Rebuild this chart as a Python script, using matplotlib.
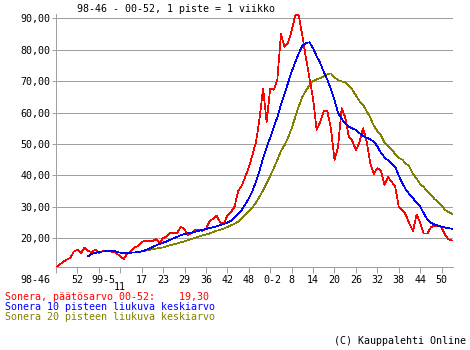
import numpy as np
import matplotlib
matplotlib.use("Agg")
import matplotlib.pyplot as plt
from matplotlib.transforms import ScaledTranslation

# weekly closing price, Sonera, 98-46 .. 00-52 (one point per week)
close = [10.6, 11.6, 12.5, 13.2, 13.8, 15.8, 16.3, 15.3, 17.0, 16.0,
         15.6, 16.4, 15.4, 15.8, 16.1, 15.8, 15.7, 15.2, 14.2, 13.4,
         15.2, 15.8, 17.1, 17.5, 18.9, 19.1, 19.1, 19.1, 19.7, 18.7,
         20.0, 20.6, 21.6, 21.6, 21.8, 23.7, 22.8, 21.1, 21.6, 22.6,
         22.6, 22.4, 22.9, 25.5, 26.2, 27.2, 25.0, 24.6, 27.2, 28.3,
         30.0, 35.0, 36.7, 39.5, 42.5, 46.5, 50.5, 58.0, 67.7, 57.0,
         67.7, 67.3, 70.5, 85.0, 81.0, 82.2, 86.0, 91.0, 91.0, 84.5,
         77.5, 71.0, 64.5, 54.5, 57.0, 60.5, 60.5, 55.0, 45.0, 49.0,
         61.4, 58.5, 52.5, 51.0, 48.0, 50.5, 55.0, 51.0, 44.0, 40.5,
         42.3, 41.5, 37.0, 39.5, 38.0, 36.5, 30.0, 29.0, 27.5, 24.5,
         22.3, 27.5, 25.0, 21.5, 21.5, 23.5, 24.0, 24.0, 23.5, 21.0,
         19.6, 19.3]

# 10 point moving average (starts at week 9)
ma10_start = 9
ma10 = [14.3, 15.0, 15.3, 15.6, 15.8, 15.9, 16.0, 16.0, 15.7, 15.4,
        15.3, 15.3, 15.4, 15.5, 15.6, 15.8, 16.2, 16.6, 17.2, 17.7,
        18.2, 18.6, 19.0, 19.5, 20.0, 20.5, 21.0, 21.3, 21.6, 21.8,
        22.1, 22.4, 22.7, 22.9, 23.2, 23.5, 23.8, 24.2, 24.6, 25.0,
        25.6, 26.5, 27.6, 29.0, 30.8, 32.6, 35.0, 38.0, 41.5, 45.5,
        49.0, 52.0, 55.5, 58.5, 62.5, 66.0, 69.5, 73.0, 76.0, 78.9,
        81.2, 82.2, 82.4, 80.5, 78.0, 75.8, 73.0, 70.5, 67.5, 64.0,
        60.0, 58.0, 56.5, 55.5, 55.0, 54.5, 53.5, 52.5, 52.0, 51.5,
        50.8, 49.3, 47.2, 45.8, 44.8, 43.8, 42.8, 40.0, 37.5, 35.5,
        34.0, 32.7, 31.4, 30.1, 28.0, 26.0, 25.0, 24.4, 24.0, 23.7,
        23.4, 23.2, 23.0]

# 20 point moving average (starts at week 25 in the picture)
ma20_start = 25
ma20 = [16.0, 16.3, 16.5, 16.7, 16.9, 17.1, 17.4, 17.8, 18.1, 18.4,
        18.7, 19.0, 19.4, 19.8, 20.2, 20.5, 20.9, 21.2, 21.5, 22.0,
        22.4, 22.7, 23.1, 23.6, 24.1, 24.6, 25.3, 26.3, 27.4, 28.5,
        29.8, 31.3, 33.2, 35.3, 37.5, 39.8, 42.3, 45.0, 47.8, 49.6,
        52.0, 55.0, 58.5, 62.0, 65.0, 67.0, 68.7, 70.0, 70.6, 71.0,
        71.5, 72.2, 72.5, 71.3, 70.3, 69.9, 69.7, 68.5, 67.3, 65.5,
        63.7, 62.5, 60.5, 58.5, 55.8, 54.2, 52.8, 50.6, 49.5, 48.3,
        46.8, 45.6, 45.0, 43.8, 42.8, 40.5, 39.0, 37.3, 36.3, 35.0,
        33.8, 32.5, 31.5, 30.5, 29.0, 28.3, 27.8]

week_labels = ["98-46", "52", "99-5", "11", "17", "23", "29", "36", "42",
               "48", "0-2", "8", "14", "20", "26", "32", "38", "44", "50"]
y_ticks = [20, 30, 40, 50, 60, 70, 80, 90]

W, H = 470, 350
fig = plt.figure(figsize=(W / 100, H / 100), dpi=100)
fig.patch.set_facecolor("white")

mono = "DejaVu Sans Mono"
fs = 7.2
grey = "#a0a0a0"
thin = 0.5  # drawn aliased, so this comes out as a single pixel

# axes box in pixels: x 56..453, y 14..267
ax = fig.add_axes([56 / W, (H - 267) / H, (453 - 56) / W, (267 - 14) / H])

x = np.arange(len(close))
ax.plot(x, close, color="#ff0000", lw=thin, antialiased=False, zorder=3)
ax.plot(np.arange(ma10_start, ma10_start + len(ma10)), ma10,
        color="#0000ff", lw=thin, antialiased=False, zorder=4)
ax.plot(np.arange(ma20_start, ma20_start + len(ma20)), ma20,
        color="#808000", lw=thin, antialiased=False, zorder=2)

ax.set_xlim(0, 111.2)
ax.set_ylim(10.85, 91.4)

for s in ["top", "right"]:
    ax.spines[s].set_visible(False)
for s in ["left", "bottom"]:
    ax.spines[s].set_color(grey)
    ax.spines[s].set_linewidth(0.72)

ax.set_yticks(y_ticks)
ax.set_yticklabels([f"{v:.2f}".replace(".", ",") for v in y_ticks],
                   fontfamily=mono, fontsize=fs)
ax.yaxis.grid(True, color=grey, lw=0.72)
ax.set_axisbelow(True)
ax.tick_params(axis="y", length=3, width=0.72, color=grey, pad=1)

xt = np.arange(0, 6 * len(week_labels), 6)
ax.set_xticks(xt)
ax.set_xticklabels([("" if l == "11" else l) for l in week_labels],
                   fontfamily=mono, fontsize=fs)
ax.tick_params(axis="x", length=4, width=0.72, color=grey, pad=1.5)

# nudge a few labels the way the original places them
shift = {"98-46": -20.7, "99-5": 4.5, "0-2": 2.5}
for lab in ax.get_xticklabels():
    dx = shift.get(lab.get_text(), 0)
    if dx:
        lab.set_transform(lab.get_transform()
                          + ScaledTranslation(dx / 100, 0, fig.dpi_scale_trans))


def ptext(px, py, s, color="black", ha="left"):
    fig.text(px / W, 1 - py / H, s, color=color, ha=ha, va="center",
             fontfamily=mono, fontsize=fs)


# "11" sits on a second row under the crowded ticks
i11 = week_labels.index("11")
ptext(56 + xt[i11] * (453 - 56) / 111.2, 286.5, "11", ha="center")

ptext(77, 8.5, "98-46 - 00-52, 1 piste = 1 viikko")
ptext(5, 297, "Sonera, päätösarvo 00-52:    19,30", color="#ff0000")
ptext(5, 307, "Sonera 10 pisteen liukuva keskiarvo", color="#0000ff")
ptext(5, 317, "Sonera 20 pisteen liukuva keskiarvo", color="#808000")
ptext(466, 340.5, "(C) Kauppalehti Online", ha="right")

fig.savefig("out.png", dpi=100)
